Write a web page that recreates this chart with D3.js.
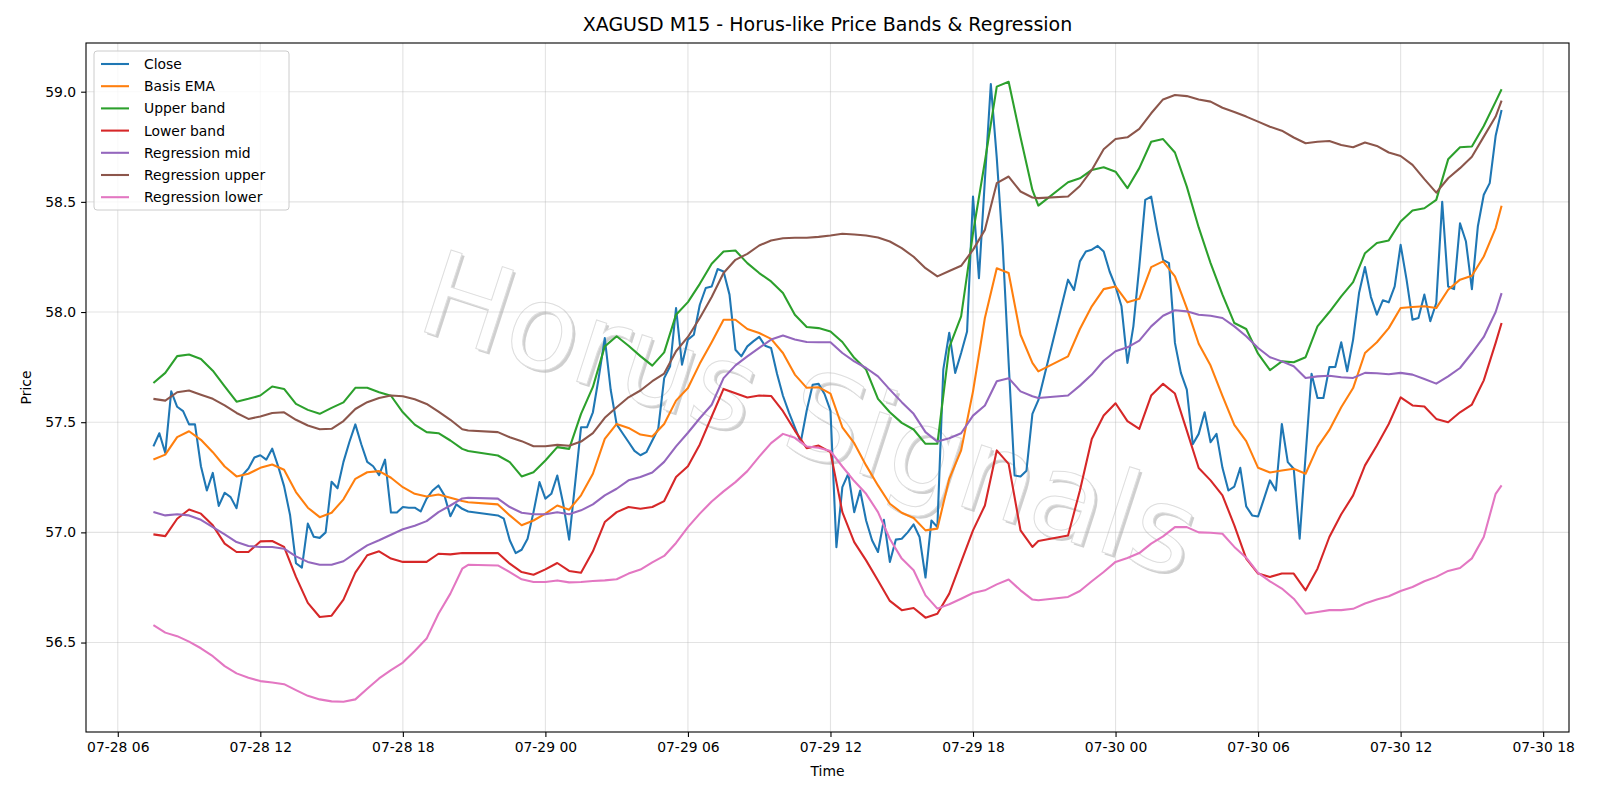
<!DOCTYPE html>
<html>
<head>
<meta charset="utf-8">
<script src="https://cdn.jsdelivr.net/npm/d3@7"></script>
<style>
  body { margin: 0; background: #fff; }
  svg { display: block; }
  text { font-family: "DejaVu Sans", sans-serif; }
</style>
</head>
<body>
<div id="chart"></div>
<script>
// trading sessions (M15 bars, daily break 20:45 -> 22:00)
const sessions = [
  ["2025-07-28T07:30", "2025-07-28T20:45"],
  ["2025-07-28T22:00", "2025-07-29T20:45"],
  ["2025-07-29T22:00", "2025-07-30T16:15"]
];

// close, every 15 min
const close = [
  57.39, 57.45, 57.36, 57.64, 57.57, 57.55, 57.49, 57.49, 57.30, 57.19,
  57.27, 57.12, 57.18, 57.16, 57.11, 57.26, 57.29, 57.34, 57.35, 57.33,
  57.38, 57.30, 57.21, 57.08, 56.86, 56.84, 57.04, 56.98, 56.975, 57.00,
  57.23, 57.20, 57.32, 57.41, 57.49, 57.40, 57.32, 57.30, 57.26, 57.33,
  57.09, 57.09, 57.115, 57.112, 57.112, 57.095, 57.153, 57.19, 57.213, 57.168,
  57.073, 57.127, 57.107, 57.095,
  57.077, 57.062, 56.964, 56.906, 56.921, 56.971, 57.092, 57.228, 57.153, 57.175,
  57.258, 57.13, 56.967, 57.22, 57.477, 57.477, 57.545, 57.706, 57.882, 57.646,
  57.49, 57.45, 57.41, 57.37, 57.35, 57.364, 57.417, 57.47, 57.70, 57.754,
  58.018, 57.761, 57.875, 57.897, 58.033, 58.109, 58.116, 58.195, 58.184, 58.079,
  57.829, 57.799, 57.844, 57.867, 57.887, 57.847, 57.837, 57.72, 57.62, 57.545,
  57.477, 57.41, 57.553, 57.67, 57.674, 57.628, 57.553, 56.933, 57.205, 57.266,
  57.092, 57.19, 57.054, 56.964, 56.911, 57.057, 56.866, 56.967, 56.971, 57.00,
  57.036, 56.979, 56.795, 57.054, 57.024, 57.74, 57.906, 57.724, 57.814, 57.912,
  58.524, 58.154, 58.60, 59.035, 58.70, 58.30, 57.77, 57.258, 57.254, 57.28,
  57.538, 57.60,
  58.147, 58.10, 58.23, 58.275, 58.283, 58.30, 58.275, 58.184, 58.116, 58.026,
  57.769, 57.935, 58.207, 58.509, 58.524, 58.373, 58.237, 58.222, 57.86, 57.724,
  57.648, 57.40, 57.447, 57.545, 57.409, 57.447, 57.293, 57.19, 57.208, 57.293,
  57.118, 57.077, 57.072, 57.153, 57.236, 57.19, 57.492, 57.319, 57.289, 56.971,
  57.35, 57.72, 57.61, 57.61, 57.75, 57.751, 57.863, 57.731, 57.875, 58.086,
  58.204, 58.068, 57.988, 58.053, 58.044, 58.116, 58.305, 58.147, 57.965, 57.973,
  58.079, 57.958, 58.041, 58.50, 58.116, 58.104, 58.403, 58.32, 58.104, 58.388,
  58.532, 58.585, 58.80, 58.917
];

// bands and regression, every 30 min (plus the last bar of each session)
const basisEma = [
  57.331, 57.353, 57.432, 57.459, 57.42, 57.364, 57.299, 57.254, 57.266, 57.293,
  57.308, 57.284, 57.183, 57.112, 57.069, 57.089, 57.15, 57.243, 57.273, 57.278,
  57.248, 57.205, 57.175, 57.163, 57.172, 57.157, 57.142, 57.137,
  57.127, 57.077, 57.032, 57.054, 57.085, 57.122, 57.103, 57.168, 57.266, 57.424,
  57.492, 57.474, 57.444, 57.435, 57.492, 57.598, 57.655, 57.766, 57.863, 57.965,
  57.965, 57.923, 57.905, 57.878, 57.814, 57.716, 57.656, 57.659, 57.63, 57.477,
  57.405, 57.304, 57.213, 57.13, 57.089, 57.065, 57.009, 57.017, 57.243, 57.372,
  57.64, 57.973, 58.199, 58.177, 57.897, 57.769, 57.731,
  57.799, 57.923, 58.026, 58.104, 58.116, 58.044, 58.06, 58.204, 58.23, 58.162,
  58.018, 57.856, 57.757, 57.62, 57.488, 57.414, 57.293, 57.272, 57.281, 57.289,
  57.266, 57.387, 57.465, 57.568, 57.655, 57.814, 57.863, 57.927, 58.018, 58.023,
  58.026, 58.018, 58.101, 58.147, 58.165, 58.252, 58.381, 58.482
];
const upperBand = [
  57.678, 57.724, 57.80, 57.807, 57.787, 57.734, 57.663, 57.593, 57.606, 57.621,
  57.662, 57.651, 57.583, 57.556, 57.538, 57.565, 57.59, 57.656, 57.656, 57.636,
  57.62, 57.545, 57.489, 57.455, 57.45, 57.417, 57.379, 57.369,
  57.349, 57.319, 57.254, 57.273, 57.326, 57.387, 57.379, 57.538, 57.66, 57.844,
  57.89, 57.847, 57.80, 57.757, 57.817, 57.988, 58.045, 58.128, 58.219, 58.275,
  58.279, 58.222, 58.177, 58.139, 58.086, 57.988, 57.932, 57.927, 57.912, 57.864,
  57.792, 57.739, 57.606, 57.545, 57.497, 57.467, 57.402, 57.402, 57.84, 57.98,
  58.358, 58.683, 59.023, 59.045, 58.793, 58.554, 58.483,
  58.589, 58.607, 58.645, 58.657, 58.637, 58.562, 58.653, 58.773, 58.785, 58.724,
  58.569, 58.384, 58.222, 58.079, 57.95, 57.923, 57.811, 57.736, 57.776, 57.772,
  57.795, 57.935, 58.0, 58.071, 58.136, 58.267, 58.313, 58.325, 58.411, 58.461,
  58.471, 58.509, 58.693, 58.748, 58.751, 58.844, 58.955, 59.011
];
const lowerBand = [
  56.991, 56.983, 57.062, 57.104, 57.085, 57.032, 56.949, 56.911, 56.911, 56.959,
  56.961, 56.934, 56.798, 56.68, 56.616, 56.622, 56.695, 56.817, 56.896, 56.914,
  56.881, 56.866, 56.866, 56.866, 56.903, 56.90, 56.906, 56.906,
  56.906, 56.858, 56.82, 56.808, 56.832, 56.861, 56.825, 56.817, 56.914, 57.047,
  57.092, 57.115, 57.107, 57.115, 57.142, 57.251, 57.30, 57.399, 57.526, 57.651,
  57.631, 57.612, 57.621, 57.619, 57.55, 57.462, 57.382, 57.394, 57.364, 57.092,
  56.956, 56.873, 56.782, 56.689, 56.647, 56.657, 56.613, 56.631, 56.722, 56.866,
  57.009, 57.122, 57.372, 57.311, 57.009, 56.934, 56.961,
  56.986, 57.19, 57.424, 57.53, 57.586, 57.505, 57.47, 57.621, 57.674, 57.63,
  57.462, 57.292, 57.236, 57.168, 57.032, 56.881, 56.813, 56.798, 56.813, 56.813,
  56.737, 56.835, 56.979, 57.082, 57.168, 57.304, 57.394, 57.492, 57.613, 57.576,
  57.571, 57.515, 57.50, 57.545, 57.58, 57.69, 57.86, 57.95
];
const regMid = [
  57.092, 57.077, 57.082, 57.077, 57.057, 57.024, 56.991, 56.956, 56.938, 56.934,
  56.934, 56.926, 56.891, 56.866, 56.853, 56.853, 56.869, 56.906, 56.941, 56.964,
  56.989, 57.014, 57.03, 57.051, 57.092, 57.122, 57.154, 57.157,
  57.153, 57.115, 57.089, 57.082, 57.082, 57.091, 57.082, 57.10, 57.127, 57.168,
  57.198, 57.236, 57.251, 57.272, 57.32, 57.39, 57.452, 57.518, 57.579, 57.70,
  57.758, 57.799, 57.837, 57.875, 57.893, 57.875, 57.864, 57.863, 57.863, 57.814,
  57.776, 57.746, 57.708, 57.648, 57.591, 57.538, 57.455, 57.412, 57.427, 57.45,
  57.53, 57.576, 57.686, 57.70, 57.64, 57.618, 57.61,
  57.621, 57.666, 57.716, 57.779, 57.822, 57.84, 57.87, 57.935, 57.983, 58.008,
  58.003, 57.988, 57.983, 57.973, 57.935, 57.89, 57.837, 57.795, 57.776, 57.754,
  57.701, 57.708, 57.711, 57.704, 57.701, 57.724, 57.722, 57.718, 57.724, 57.716,
  57.696, 57.675, 57.708, 57.746, 57.814, 57.887, 58.0, 58.086
];
const regUpper = [
  57.606, 57.598, 57.636, 57.644, 57.625, 57.606, 57.576, 57.542, 57.515, 57.526,
  57.542, 57.545, 57.511, 57.485, 57.468, 57.47, 57.505, 57.56, 57.591, 57.61,
  57.621, 57.618, 57.604, 57.583, 57.548, 57.511, 57.468, 57.462,
  57.455, 57.432, 57.414, 57.391, 57.391, 57.397, 57.393, 57.412, 57.45, 57.52,
  57.568, 57.613, 57.644, 57.686, 57.721, 57.822, 57.887, 57.973, 58.068, 58.177,
  58.237, 58.264, 58.302, 58.325, 58.335, 58.337, 58.337, 58.341, 58.347, 58.355,
  58.352, 58.347, 58.338, 58.32, 58.29, 58.251, 58.199, 58.162, 58.186, 58.21,
  58.282, 58.373, 58.585, 58.615, 58.547, 58.52, 58.517,
  58.524, 58.572, 58.645, 58.739, 58.785, 58.793, 58.831, 58.902, 58.965, 58.985,
  58.98, 58.965, 58.955, 58.927, 58.908, 58.887, 58.864, 58.841, 58.823, 58.792,
  58.766, 58.773, 58.776, 58.758, 58.748, 58.769, 58.754, 58.724, 58.708, 58.668,
  58.603, 58.542, 58.607, 58.653, 58.705, 58.796, 58.887, 58.959
];
const regLower = [
  56.579, 56.545, 56.529, 56.504, 56.474, 56.438, 56.393, 56.36, 56.34, 56.325,
  56.319, 56.311, 56.284, 56.258, 56.242, 56.233, 56.231, 56.242, 56.29, 56.337,
  56.375, 56.409, 56.462, 56.518, 56.631, 56.722, 56.835, 56.853,
  56.85, 56.82, 56.787, 56.775, 56.775, 56.782, 56.773, 56.775, 56.779, 56.782,
  56.787, 56.813, 56.831, 56.864, 56.893, 56.952, 57.024, 57.085, 57.14, 57.186,
  57.228, 57.278, 57.344, 57.405, 57.447, 57.429, 57.39, 57.384, 57.369, 57.299,
  57.233, 57.175, 57.092, 56.97, 56.881, 56.828, 56.714, 56.654, 56.674, 56.699,
  56.725, 56.737, 56.764, 56.786, 56.737, 56.695, 56.692,
  56.707, 56.734, 56.778, 56.82, 56.866, 56.884, 56.906, 56.949, 56.982, 57.024,
  57.024, 57.0, 56.998, 56.994, 56.934, 56.885, 56.816, 56.778, 56.745, 56.699,
  56.631, 56.639, 56.647, 56.647, 56.653, 56.677, 56.695, 56.71, 56.734, 56.752,
  56.778, 56.798, 56.825, 56.838, 56.882, 56.979, 57.175, 57.213
];

const seriesNames = ["Close", "Basis EMA", "Upper band", "Lower band", "Regression mid", "Regression upper", "Regression lower"];
const seriesColors = ["#1f77b4", "#ff7f0e", "#2ca02c", "#d62728", "#9467bd", "#8c564b", "#e377c2"];
const yTicks = [56.5, 57.0, 57.5, 58.0, 58.5, 59.0];

const titleText = "XAGUSD M15 - Horus-like Price Bands & Regression";
const watermark = "Horus Signals";

// ---------- layout ----------
const W = 1600, H = 800;
const margin = {top: 43, right: 31, bottom: 68, left: 86};
const iw = W - margin.left - margin.right,
      ih = H - margin.top - margin.bottom;

const parseT = d3.utcParse("%Y-%m-%dT%H:%M");

function barTimes(stepMin) {
  const out = [];
  sessions.forEach(function(s) {
    const a = parseT(s[0]).getTime(), b = parseT(s[1]).getTime();
    let t = a;
    while (t <= b) { out.push(new Date(t)); t += stepMin * 60000; }
    if (out[out.length - 1].getTime() < b) out.push(new Date(b));
  });
  return out;
}
const closeTimes = barTimes(15);
const bandTimes = barTimes(30);

const valueLists = [close, basisEma, upperBand, lowerBand, regMid, regUpper, regLower];
const series = valueLists.map(function(vals, i) {
  const ts = i === 0 ? closeTimes : bandTimes;
  const n = Math.min(ts.length, vals.length);
  return {name: seriesNames[i], color: seriesColors[i],
          pts: d3.range(n).map(j => ({t: ts[j], v: vals[j]}))};
});

// 5% padding like the original axes
const t0 = closeTimes[0].getTime(), t1 = closeTimes[closeTimes.length - 1].getTime();
const tp = (t1 - t0) * 0.05;
const x = d3.scaleUtc().domain([new Date(t0 - tp), new Date(t1 + tp)]).range([0, iw]);
const y = d3.scaleLinear().domain([56.094, 59.221]).range([ih, 0]);

const svg = d3.select("#chart").append("svg")
  .attr("width", W).attr("height", H);

svg.append("rect").attr("width", W).attr("height", H).attr("fill", "#fff");

const g = svg.append("g").attr("transform", "translate(" + margin.left + "," + margin.top + ")");

// watermark: white text with soft grey drop shadow
const wmx = 810 - margin.left, wmy = 414 - margin.top, wmSize = 118;
g.append("text")
  .attr("transform", "translate(" + (wmx + 2.5) + "," + (wmy + 2.5) + ") rotate(18)")
  .attr("text-anchor", "middle").attr("dominant-baseline", "central")
  .attr("font-size", wmSize).attr("fill", "#c4c4c4").attr("opacity", 0.8)
  .text(watermark);
g.append("text")
  .attr("transform", "translate(" + wmx + "," + wmy + ") rotate(18)")
  .attr("text-anchor", "middle").attr("dominant-baseline", "central")
  .attr("font-size", wmSize).attr("fill", "#ffffff")
  .attr("stroke", "#dedede").attr("stroke-width", 1)
  .text(watermark);

// grid
const xTicks = x.ticks(d3.utcHour.every(6));
g.append("g").selectAll("line").data(xTicks).enter().append("line")
  .attr("x1", d => x(d)).attr("x2", d => x(d)).attr("y1", 0).attr("y2", ih)
  .attr("stroke", "#b0b0b0").attr("stroke-opacity", 0.35).attr("stroke-width", 1.1);
g.append("g").selectAll("line").data(yTicks).enter().append("line")
  .attr("y1", d => y(d)).attr("y2", d => y(d)).attr("x1", 0).attr("x2", iw)
  .attr("stroke", "#b0b0b0").attr("stroke-opacity", 0.35).attr("stroke-width", 1.1);

// lines
const line = d3.line().x(d => x(d.t)).y(d => y(d.v));
g.append("g").selectAll("path").data(series).enter().append("path")
  .attr("d", d => line(d.pts))
  .attr("fill", "none")
  .attr("stroke", d => d.color)
  .attr("stroke-width", 2.08)
  .attr("stroke-linejoin", "round");

// axes
const fmt = d3.utcFormat("%m-%d %H");
const xAxis = d3.axisBottom(x).tickValues(xTicks).tickFormat(fmt).tickSizeOuter(0).tickSize(4.9).tickPadding(4.9);
const yAxis = d3.axisLeft(y).tickValues(yTicks).tickFormat(d3.format(".1f")).tickSizeOuter(0).tickSize(4.9).tickPadding(4.9);

const gx = g.append("g").attr("transform", "translate(0," + ih + ")").call(xAxis);
const gy = g.append("g").call(yAxis);
[gx, gy].forEach(function(a) {
  a.select(".domain").remove();
  a.selectAll("line").attr("stroke", "#000").attr("stroke-width", 1.1);
  a.selectAll("text").attr("font-size", 13.9).attr("fill", "#000")
    .attr("font-family", "DejaVu Sans, sans-serif");
});

// frame
g.append("rect").attr("width", iw).attr("height", ih)
  .attr("fill", "none").attr("stroke", "#000").attr("stroke-width", 1.1);

// labels
svg.append("text").attr("x", margin.left + iw / 2).attr("y", 31)
  .attr("text-anchor", "middle").attr("font-size", 19).text(titleText);
svg.append("text").attr("x", margin.left + iw / 2).attr("y", 776)
  .attr("text-anchor", "middle").attr("font-size", 13.9).text("Time");
svg.append("text").attr("transform", "translate(31," + (margin.top + ih / 2) + ") rotate(-90)")
  .attr("text-anchor", "middle").attr("font-size", 13.9).text("Price");

// legend
const lg = svg.append("g").attr("transform", "translate(94,51)");
lg.append("rect").attr("width", 195).attr("height", 159).attr("rx", 3).attr("ry", 3)
  .attr("fill", "#fff").attr("fill-opacity", 0.8)
  .attr("stroke", "#cccccc").attr("stroke-width", 1);
const rows = lg.selectAll("g.row").data(series).enter().append("g")
  .attr("transform", (d, i) => "translate(0," + (13 + i * 22.2) + ")");
rows.append("line").attr("x1", 7).attr("x2", 35).attr("y1", 0).attr("y2", 0)
  .attr("stroke", d => d.color).attr("stroke-width", 2.08);
rows.append("text").attr("x", 50).attr("y", 5).attr("font-size", 13.9).text(d => d.name);
</script>
</body>
</html>
